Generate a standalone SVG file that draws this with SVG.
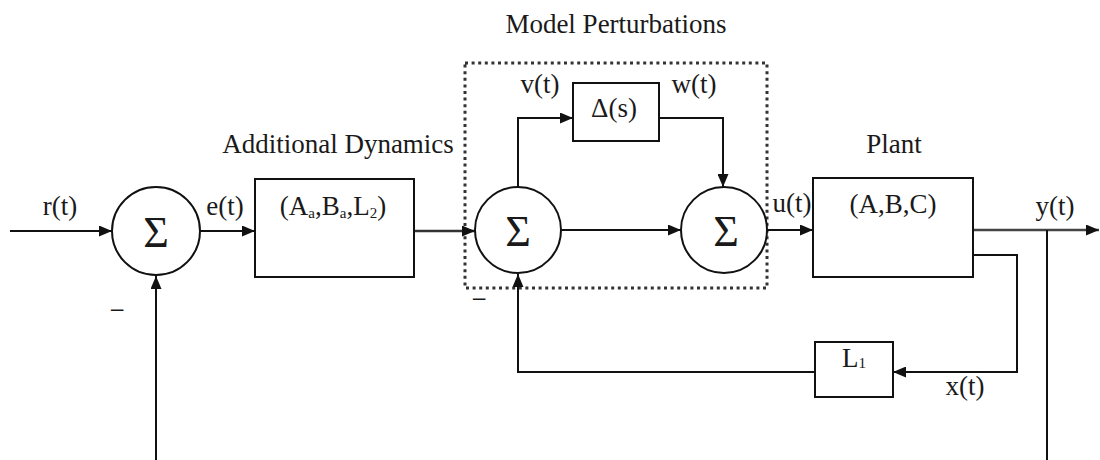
<svg xmlns="http://www.w3.org/2000/svg" width="1100" height="460" viewBox="0 0 1100 460">
<defs>
<marker id="arr" markerUnits="userSpaceOnUse" markerWidth="13" markerHeight="11" refX="13" refY="5.5" orient="auto">
<path d="M0,0 L13,5.5 L0,11 z" fill="#111"/>
</marker>
<style>
.t{font-family:"Liberation Serif","Times New Roman",serif;font-size:27px;fill:#1a1a1a}
.c{text-anchor:middle}
.sig{font-family:"Liberation Serif","Times New Roman",serif;font-size:44px;fill:#1a1a1a;text-anchor:middle}
.box{fill:#fff;stroke:#111;stroke-width:2}
.ln{fill:none;stroke:#111;stroke-width:2}
.arr{marker-end:url(#arr)}
.dot{fill:none;stroke:#333;stroke-width:3;stroke-dasharray:3 3.6}
</style>
</defs>
<rect width="1100" height="460" fill="#fff"/>

<g id="perturbation-region">
<rect class="dot" x="465" y="63" width="302" height="225"/>
<text class="t c" x="616" y="33">Model Perturbations</text>
</g>

<g id="connectors">
<path class="ln arr" d="M10,231 H112"/>
<path class="ln arr" d="M200,231 H255"/>
<path class="ln arr" d="M414,231 H475" style="stroke:#333;stroke-width:2.4"/>
<path class="ln arr" d="M561,230 H681"/>
<path class="ln arr" d="M518,187 V118 H573"/>
<path class="ln arr" d="M659,118 H723 V187"/>
<path class="ln arr" d="M767,230 H813"/>
<path class="ln arr" d="M973,230 H1099" style="stroke:#444;stroke-width:2.6"/>
<path class="ln" d="M1047,230 V460"/>
<path class="ln arr" d="M973,255 H1017 V372 H893"/>
<path class="ln arr" d="M815,372 H518 V274"/>
<path class="ln arr" d="M156,460 V276"/>
</g>

<g id="sum1">
<circle class="box" cx="156" cy="231" r="44"/>
<text class="sig" x="156" y="247">Σ</text>
<text class="t c" x="117" y="319">−</text>
</g>

<g id="additional-dynamics">
<rect class="box" x="255" y="179" width="159" height="98"/>
<text class="t c" x="338" y="153">Additional Dynamics</text>
<text class="t c" x="333" y="215">(A<tspan font-size="15" dy="3">a</tspan><tspan dy="-3">,B</tspan><tspan font-size="15" dy="3">a</tspan><tspan dy="-3">,L</tspan><tspan font-size="15" dy="3">2</tspan><tspan dy="-3">)</tspan></text>
</g>

<g id="sum2">
<circle class="box" cx="518" cy="230" r="43"/>
<text class="sig" x="518" y="246">Σ</text>
<text class="t c" x="479" y="308">−</text>
</g>

<g id="delta">
<rect class="box" x="573" y="83" width="86" height="58"/>
<text class="t c" x="614" y="117">Δ(s)</text>
</g>

<g id="sum3">
<circle class="box" cx="724" cy="230" r="43"/>
<text class="sig" x="726" y="246">Σ</text>
</g>

<g id="plant">
<rect class="box" x="813" y="178" width="160" height="99"/>
<text class="t c" x="894" y="153">Plant</text>
<text class="t c" x="893" y="213">(A,B,C)</text>
</g>

<g id="L1">
<rect class="box" x="815" y="342" width="78" height="55"/>
<text class="t c" x="854" y="367">L<tspan font-size="15" dy="1">1</tspan></text>
</g>

<g id="signal-labels">
<text class="t c" x="60" y="215">r(t)</text>
<text class="t c" x="225" y="215">e(t)</text>
<text class="t c" x="540" y="93">v(t)</text>
<text class="t c" x="694" y="93">w(t)</text>
<text class="t c" x="792" y="212">u(t)</text>
<text class="t c" x="1055" y="215">y(t)</text>
<text class="t c" x="965" y="395">x(t)</text>
</g>
</svg>
